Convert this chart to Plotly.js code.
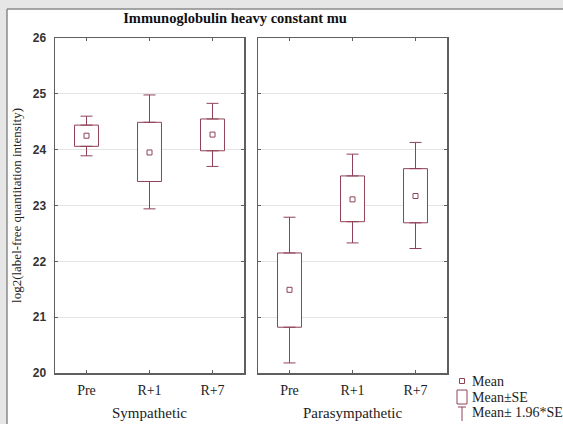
<!DOCTYPE html>
<html>
<head>
<meta charset="utf-8">
<script src="https://cdn.plot.ly/plotly-3.0.1.min.js"></script>
<style>html,body{margin:0;padding:0;background:#ffffff;overflow:hidden;}#chart{width:563px;height:424px;}</style>
</head>
<body>
<div id="chart"></div>
<script>
// ---- data ----
const categories = ["Pre", "R+1", "R+7"];
const groups = ["Sympathetic", "Parasympathetic"];
// Sympathetic
const symMean   = [24.25, 23.95, 24.27];
const symSeLow  = [24.06, 23.43, 23.98];
const symSeHigh = [24.44, 24.49, 24.55];
const symCiLow  = [23.89, 22.94, 23.70];
const symCiHigh = [24.60, 24.98, 24.83];
// Parasympathetic
const parMean   = [21.49, 23.11, 23.17];
const parSeLow  = [20.82, 22.71, 22.69];
const parSeHigh = [22.15, 23.53, 23.66];
const parCiLow  = [20.18, 22.33, 22.23];
const parCiHigh = [22.79, 23.92, 24.13];
const yTicks = [20, 21, 22, 23, 24, 25, 26];
const legendLabels = ["Mean", "Mean\u00B1SE", "Mean\u00B1 1.96*SE"];

// ---- styling ----
const C = "#8f4257";
const FRAME = "#5f5f5f";
const SERIF = "'Liberation Serif', 'Times New Roman', serif";
const SANS = "'Liberation Sans', Arial, sans-serif";
const L = 55, R = 447, T = 38, B = 373, W = 563, H = 424;
const px = v => (v - L) / (R - L);
const py = v => (B - v) / (B - T);

function panelTraces(mean, seLow, seHigh, ciLow, ciHigh, xa, ya) {
  const sub = (a, b) => a.map((v, i) => v - b[i]);
  return [
    { type: "bar", x: categories, base: seLow, y: sub(seHigh, seLow), width: 0.38,
      marker: { color: "#ffffff", line: { color: C, width: 1 } },
      xaxis: xa, yaxis: ya, showlegend: false, hoverinfo: "skip" },
    { type: "scatter", mode: "markers", x: categories, y: seHigh,
      marker: { size: 1, color: "rgba(0,0,0,0)" },
      error_y: { type: "data", symmetric: false, array: sub(ciHigh, seHigh),
                 arrayminus: categories.map(() => 0), color: C, thickness: 1, width: 6 },
      xaxis: xa, yaxis: ya, showlegend: false, hoverinfo: "skip" },
    { type: "scatter", mode: "markers", x: categories, y: seLow,
      marker: { size: 1, color: "rgba(0,0,0,0)" },
      error_y: { type: "data", symmetric: false, array: categories.map(() => 0),
                 arrayminus: sub(seLow, ciLow), color: C, thickness: 1, width: 6 },
      xaxis: xa, yaxis: ya, showlegend: false, hoverinfo: "skip" },
    { type: "scatter", mode: "markers", x: categories, y: mean,
      marker: { symbol: "square-open", size: 5, color: C, line: { width: 1, color: C } },
      xaxis: xa, yaxis: ya, showlegend: false, hoverinfo: "skip" }
  ];
}

const data = [
  ...panelTraces(symMean, symSeLow, symSeHigh, symCiLow, symCiHigh, "x", "y"),
  ...panelTraces(parMean, parSeLow, parSeHigh, parCiLow, parCiHigh, "x2", "y2")
];

const xCommon = {
  type: "category", range: [-0.5, 2.5], showline: true, linecolor: FRAME, linewidth: 1.5,
  mirror: "ticks", ticks: "inside", ticklen: 3, tickcolor: FRAME, showgrid: false,
  tickfont: { family: SERIF, size: 14, color: "#222" }, ticklabelstandoff: 4, zeroline: false, fixedrange: true
};
const yCommon = {
  range: [20, 26], tickvals: yTicks, showline: true, linecolor: FRAME, linewidth: 1.5,
  mirror: "ticks", ticks: "inside", ticklen: 3, tickcolor: FRAME,
  showgrid: true, gridcolor: "#e4e4e4", gridwidth: 1, zeroline: false, fixedrange: true
};

const legY = [381, 397, 413];
const legX = 462;
const GRAY = "#e6e6e6";

const layout = {
  width: W, height: H,
  margin: { l: L, r: W - R, t: T, b: H - B, pad: 0 },
  paper_bgcolor: "#ffffff", plot_bgcolor: "#ffffff",
  showlegend: false, bargap: 0,
  title: { text: "Immunoglobulin heavy constant mu", xref: "container", yref: "container",
           x: 235 / W, y: 1 - 18 / H, xanchor: "center", yanchor: "middle",
           font: { family: SERIF, size: 14.5, color: "#111", weight: "bold" } },
  xaxis: Object.assign({}, xCommon, { domain: [0, (244 - L) / (R - L)], anchor: "y" }),
  xaxis2: Object.assign({}, xCommon, { domain: [(258 - L) / (R - L), 1], anchor: "y2" }),
  yaxis: Object.assign({}, yCommon, { anchor: "x", domain: [0, 1],
    tickfont: { family: SANS, size: 12, color: "#333", weight: "bold" }, ticklabelstandoff: 5,
    title: { text: "log2(label-free quantitation intensity)", standoff: 8,
             font: { family: SERIF, size: 13, color: "#222" } } }),
  yaxis2: Object.assign({}, yCommon, { anchor: "x2", domain: [0, 1], showticklabels: false }),
  shapes: [
    // outer gray frame strips (left and top)
    { type: "rect", xref: "paper", yref: "paper", layer: "below",
      x0: px(0), x1: px(7), y0: py(H), y1: py(0), fillcolor: GRAY, line: { width: 0 } },
    { type: "rect", xref: "paper", yref: "paper", layer: "below",
      x0: px(0), x1: px(W), y0: py(9), y1: py(0), fillcolor: GRAY, line: { width: 0 } },
    { type: "line", xref: "paper", yref: "paper", layer: "below",
      x0: px(7), x1: px(W), y0: py(9), y1: py(9), line: { color: "#8a8a8a", width: 1.5 } },
    { type: "line", xref: "paper", yref: "paper", layer: "below",
      x0: px(7), x1: px(7), y0: py(9), y1: py(H), line: { color: "#8a8a8a", width: 1.5 } },
    // legend icons
    { type: "rect", xref: "paper", yref: "paper", x0: px(legX - 2.5), x1: px(legX + 2.5),
      y0: py(legY[0] + 2.5), y1: py(legY[0] - 2.5), line: { color: C, width: 1 }, fillcolor: "#fff" },
    { type: "rect", xref: "paper", yref: "paper", x0: px(legX - 5), x1: px(legX + 5),
      y0: py(legY[1] + 7), y1: py(legY[1] - 7), line: { color: C, width: 1 }, fillcolor: "#fff" },
    { type: "line", xref: "paper", yref: "paper", x0: px(legX - 4), x1: px(legX + 4),
      y0: py(legY[2] - 6), y1: py(legY[2] - 6), line: { color: C, width: 1 } },
    { type: "line", xref: "paper", yref: "paper", x0: px(legX), x1: px(legX),
      y0: py(legY[2] - 6), y1: py(legY[2] + 8), line: { color: C, width: 1 } }
  ],
  annotations: [
    ...groups.map((g, i) => ({ text: g, xref: i === 0 ? "x domain" : "x2 domain", yref: "paper",
      x: 0.5, y: py(413), xanchor: "center", yanchor: "middle", showarrow: false,
      font: { family: SERIF, size: 15, color: "#222" } })),
    ...legendLabels.map((t, i) => ({ text: t, xref: "paper", yref: "paper",
      x: px(470), y: py(legY[i]), xanchor: "left", yanchor: "middle", showarrow: false,
      font: { family: SERIF, size: 14, color: "#222" } }))
  ]
};

Plotly.newPlot("chart", data, layout, { staticPlot: true, displayModeBar: false });
</script>
</body>
</html>
